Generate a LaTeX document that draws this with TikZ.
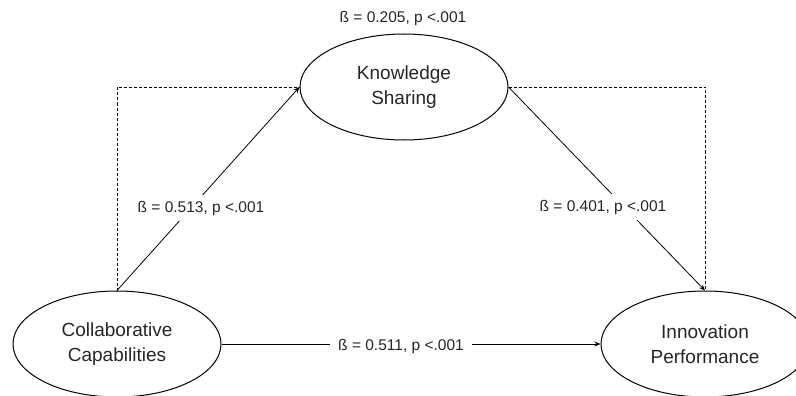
\documentclass[tikz,border=0pt]{standalone}
\usepackage{fontspec}
\setmainfont{Liberation Sans}
\usetikzlibrary{shapes.geometric,arrows.meta}
\tikzset{
  construct/.style={draw=black, line width=1pt, ellipse, inner sep=0pt, minimum width=208pt, minimum height=106pt, align=center, font=\fontsize{19}{25}\selectfont, text=black!85},
  coef/.style={fill=white, inner xsep=8pt, inner ysep=6pt, font=\fontsize{15.5}{18}\selectfont, text=black!85},
  path/.style={draw=black, line width=0.8pt, -{Stealth[length=6pt,width=5pt]}},
  indirect/.style={draw=black, line width=0.8pt, dash pattern=on 3pt off 2pt}
}
\begin{document}
\begin{tikzpicture}[x=1pt,y=-1pt]
\useasboundingbox (0,0) rectangle (796,396);
\clip (0,0) rectangle (796,396);
\node[construct] (KS) at (404,87) {Knowledge\\Sharing};
\node[construct] (CC) at (117,344) {Collaborative\\Capabilities};
\node[construct] (IP) at (705,344) {Innovation\\Performance};
\draw[indirect] (CC.north) |- (KS.west);
\draw[indirect] (KS.east) -| (IP.north);
\draw[path] (CC.north) -- (KS.west);
\draw[path] (KS.east) -- (IP.north);
\draw[path] (CC.east) -- (IP.west);
\node[coef] (l1) at (201,208) {ß = 0.513, p <.001};
\node[coef] (l2) at (603,207) {ß = 0.401, p <.001};
\node[coef] (l3) at (401,346) {ß = 0.511, p <.001};
\node[coef] (l4) at (403,18) {ß = 0.205, p <.001};
\end{tikzpicture}
\end{document}
